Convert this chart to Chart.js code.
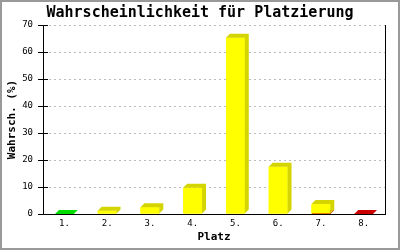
<!DOCTYPE html>
<html>
<head>
<meta charset="utf-8">
<script src="https://cdn.jsdelivr.net/npm/chart.js@4"></script>
<style>
  html, body { margin: 0; padding: 0; background: #fff; }
  #wrap { width: 400px; height: 250px; }
</style>
</head>
<body>
<div id="wrap"><canvas id="platzchart" width="400" height="250"></canvas></div>
<script>
var plaetze = ['1.', '2.', '3.', '4.', '5.', '6.', '7.', '8.'];
var gruen = [0, null, null, null, null, null, null, null];
var rot = [null, null, null, null, null, null, 0, 0];
var gelb = [null, 1.2, 2.5, 9.7, 65.3, 17.5, 3.7, null];
var yTicks = [0, 10, 20, 30, 40, 50, 60, 70];
var titel = 'Wahrscheinlichkeit für Platzierung';

var mono = '"DejaVu Sans Mono", "Liberation Mono", monospace';
var depth = 4;

// white page, gray frame, title, right plot line and y ticks crossing the axis
var frame = {
	id: 'frame',
	beforeDraw: function(chart) {
		var ctx = chart.ctx;
		ctx.save();
		ctx.fillStyle = '#ffffff';
		ctx.fillRect(0, 0, chart.width, chart.height);
		ctx.restore();
	},
	afterDraw: function(chart) {
		var ctx = chart.ctx;
		var area = chart.chartArea;
		var y = chart.scales.y;
		ctx.save();
		ctx.strokeStyle = '#000';
		ctx.lineWidth = 1;
		ctx.beginPath();
		ctx.moveTo(Math.round(area.right) + 0.5, area.top);
		ctx.lineTo(Math.round(area.right) + 0.5, area.bottom + 0.5);
		for (var i = 0; i < yTicks.length; i++) {
			var py = Math.round(y.getPixelForValue(yTicks[i])) + 0.5;
			ctx.moveTo(area.left - 5, py);
			ctx.lineTo(area.left + 5, py);
		}
		ctx.stroke();
		ctx.fillStyle = '#000';
		ctx.font = 'bold 15px ' + mono;
		ctx.textAlign = 'center';
		ctx.textBaseline = 'middle';
		ctx.fillText(titel, chart.width / 2, 13);
		ctx.strokeStyle = '#999999';
		ctx.lineWidth = 2;
		ctx.strokeRect(1, 1, chart.width - 2, chart.height - 2);
		ctx.restore();
	}
};

// fake 3d: top and side faces on each bar
var bars3d = {
	id: 'bars3d',
	afterDatasetsDraw: function(chart) {
		var ctx = chart.ctx;
		ctx.save();
		chart.data.datasets.forEach(function(ds, di) {
			var meta = chart.getDatasetMeta(di);
			meta.data.forEach(function(bar, i) {
				if (ds.data[i] === null) return;
				var p = bar.getProps(['x', 'y', 'base', 'width'], true);
				var l = p.x - p.width / 2, r = p.x + p.width / 2;
				// redraw the front so later stacks cover earlier faces
				ctx.fillStyle = ds.backgroundColor;
				ctx.fillRect(l, p.y, r - l, p.base - p.y);
				ctx.fillStyle = ds.dark;
				ctx.beginPath();
				ctx.moveTo(l, p.y);
				ctx.lineTo(l + depth, p.y - depth);
				ctx.lineTo(r + depth, p.y - depth);
				ctx.lineTo(r + depth, p.base - depth);
				ctx.lineTo(r, p.base);
				ctx.lineTo(r, p.y);
				ctx.closePath();
				ctx.fill();
			});
		});
		ctx.restore();
	}
};

new Chart(document.getElementById('platzchart'), {
	type: 'bar',
	data: {
		labels: plaetze,
		datasets: [
			{ label: 'rot', data: rot, backgroundColor: '#dd0000', dark: '#cc0000' },
			{ label: 'gelb', data: gelb, backgroundColor: '#ffff00', dark: '#d4d400' },
			{ label: 'gruen', data: gruen, backgroundColor: '#00ff00', dark: '#00dd00' }
		]
	},
	options: {
		responsive: false,
		animation: false,
		events: [],
		layout: { padding: { left: 0, right: 15, top: 0, bottom: 0 } },
		datasets: { bar: { barPercentage: 0.44, categoryPercentage: 1, borderWidth: 0 } },
		plugins: {
			legend: { display: false },
			tooltip: { enabled: false },
			title: {
				// keeps the space, text is drawn centred on the page by the frame plugin
				display: true,
				text: titel,
				color: 'rgba(0,0,0,0)',
				font: { family: mono, size: 15, weight: 'bold', lineHeight: 1 },
				padding: { top: 6, bottom: 4 }
			}
		},
		scales: {
			x: {
				stacked: true,
				grid: { display: false, drawTicks: false },
				border: { display: true, color: '#000', width: 1 },
				ticks: { color: '#000', font: { family: mono, size: 9 }, padding: 4 },
				title: {
					display: true,
					text: 'Platz',
					color: '#000',
					font: { family: mono, size: 11, weight: 'bold', lineHeight: 1 },
					padding: { top: 0, bottom: 7 }
				},
				afterFit: function(scale) { scale.height = 36; }
			},
			y: {
				stacked: true,
				min: 0,
				max: 70,
				afterBuildTicks: function(scale) {
					scale.ticks = yTicks.map(function(v) { return { value: v }; });
				},
				grid: { color: '#bbbbbb', drawTicks: false },
				border: { display: true, color: '#000', width: 1, dash: [2, 3] },
				ticks: { color: '#000', font: { family: mono, size: 9 }, padding: 10 },
				title: {
					display: true,
					text: 'Wahrsch. (%)',
					color: '#000',
					font: { family: mono, size: 11, weight: 'bold', lineHeight: 1 },
					padding: { top: 7, bottom: 0 }
				},
				afterFit: function(scale) { scale.width = 43; }
			}
		}
	},
	plugins: [frame, bars3d]
});
</script>
</body>
</html>
